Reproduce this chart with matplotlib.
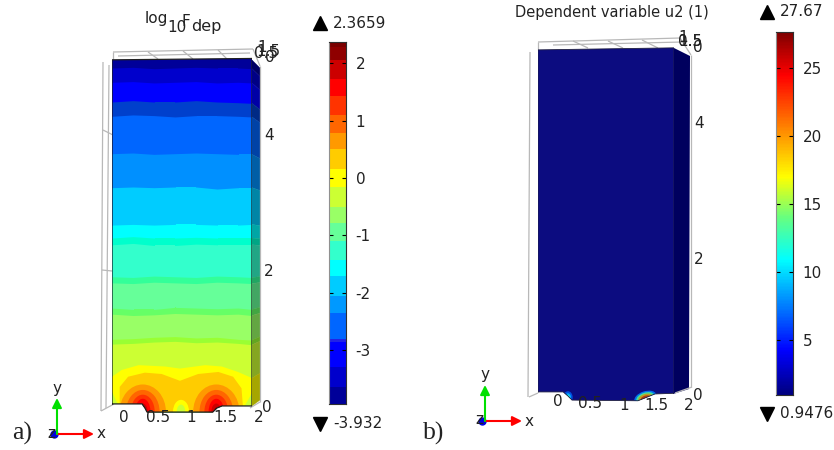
import numpy as np
import matplotlib as mpl
mpl.use('Agg')
import matplotlib.pyplot as plt
from matplotlib.colors import ListedColormap, BoundaryNorm, LinearSegmentedColormap, to_rgb
from matplotlib.patches import Ellipse, Polygon

mpl.rc('axes', unicode_minus=False)
W, H = 834, 450

# %% data
# panel a, colour bar
bar_a_levels = [-3.932, -3.64, -3.29, -2.85, -2.80, -2.35, -2.05, -1.71, -1.43, -1.10, -0.79,
                -0.50, -0.15, 0.15, 0.50, 0.79, 1.09, 1.43, 1.72, 2.05, 2.28, 2.3659]
bar_a_colors = ['#000099', '#0000cc', '#0000ff', '#2222e6', '#0066ff', '#0099ff', '#00ccff',
                '#00ffff', '#33ffcc', '#66ff99', '#99ff66', '#ccff33', '#ffff00', '#ffcc00',
                '#ff9900', '#ff6600', '#ff3300', '#ff0000', '#cc0000', '#8f0000', '#7a0000']
bar_a_ticks = [-3, -2, -1, 0, 1, 2]

# panel a, front face: contour height (y) at each x sample, top band first
contour_x = [0, 0.3, 0.6, 0.9, 1.2, 1.5, 1.8, 2.0]
contour_y = [
    [5.15, 5.15, 5.15, 5.15, 5.15, 5.15, 5.15, 5.15],
    [5.00, 5.01, 4.99, 5.00, 5.01, 5.00, 5.00, 4.99],
    [4.79, 4.80, 4.78, 4.79, 4.80, 4.78, 4.79, 4.78],
    [4.50, 4.52, 4.50, 4.50, 4.52, 4.50, 4.49, 4.48],
    [4.29, 4.31, 4.30, 4.28, 4.30, 4.30, 4.29, 4.28],
    [3.74, 3.75, 3.73, 3.74, 3.75, 3.74, 3.73, 3.73],
    [3.24, 3.25, 3.24, 3.25, 3.25, 3.22, 3.24, 3.24],
    [2.69, 2.70, 2.69, 2.70, 2.70, 2.69, 2.69, 2.70],
    [2.50, 2.52, 2.50, 2.50, 2.51, 2.50, 2.50, 2.50],
    [2.40, 2.42, 2.39, 2.39, 2.41, 2.40, 2.40, 2.40],
    [1.93, 1.92, 1.94, 1.93, 1.92, 1.94, 1.93, 1.92],
    [1.84, 1.83, 1.85, 1.84, 1.83, 1.85, 1.84, 1.83],
    [1.47, 1.45, 1.45, 1.48, 1.47, 1.46, 1.47, 1.45],
    [1.38, 1.36, 1.37, 1.39, 1.38, 1.37, 1.38, 1.36],
    [1.01, 1.02, 1.04, 1.05, 1.03, 1.04, 1.01, 1.00],
    [0.94, 0.95, 0.97, 0.98, 0.96, 0.97, 0.95, 0.93],
]
contour_colors = ['#000099', '#0000cc', '#0000ff', '#0040cc', '#0066ff', '#0090ff', '#00ccff',
                  '#00ffff', '#00ffcc', '#33ffcc', '#33ff99', '#66ff99', '#66ff66', '#99ff66',
                  '#99ff33', '#ccff33']

yellow_x = [0, 0.14, 0.38, 0.76, 0.97, 1.33, 1.57, 1.80, 2.0, 2.0, 1.90, 0.09, 0]
yellow_y = [0.46, 0.56, 0.63, 0.61, 0.58, 0.63, 0.61, 0.53, 0.44, 0.22, 0.04, 0.04, 0.24]
orange_x = [0.11, 0.11, 0.23, 0.47, 0.71, 0.97, 1.23, 1.52, 1.73, 1.85, 1.88]
orange_y = [-0.1, 0.31, 0.46, 0.52, 0.50, 0.40, 0.50, 0.53, 0.46, 0.29, -0.1]

# concentric hot spots at the two electrodes and the gap between them
hot_centers = [(0.44, -0.054), (1.49, -0.054)]
hot_rx = [0.33, 0.24, 0.17, 0.11, 0.07, 0.03]
hot_ry = [0.40, 0.32, 0.25, 0.19, 0.12, 0.06]
hot_colors = ['#ff9900', '#ff6600', '#ff3300', '#ff0000', '#cc0000', '#800000']
gap_center = (0.986, -0.05)
gap_rx = [0.114, 0.06]
gap_ry = [0.17, 0.10]
gap_colors = ['#ffff00', '#ccff33']

face_a_x = [0, 0.43, 0.47, 0.50, 1.44, 1.50, 1.57, 2, 2, 0]
face_a_y = [0.06, 0.06, 0.0, -0.06, -0.06, 0.0, 0.03, 0.03, 5.14, 5.12]

# panel b
bar_b_min, bar_b_max = 0.9476, 27.67
bar_b_ticks = [5, 10, 15, 20, 25]
bar_b_nodes = [0.9476, 4.2, 10.9, 14.0, 17.0, 20.0, 24.5, 27.67]
bar_b_colors = ['#00007f', '#0000ff', '#00ffff', '#66ff80', '#ffff00', '#ff9900', '#ff0000', '#7f0000']
face_b_x = [0, 0.37, 0.44, 0.50, 1.47, 1.72, 2, 2, 0]
face_b_y = [0.06, 0.06, 0.0, -0.06, -0.07, 0.03, 0.04, 5.12, 5.09]
face_b_color = '#0c0c80'
side_b_color = '#00005e'
left_glow_rx = [0.07, 0.045, 0.025]
left_glow_ry = [0.09, 0.06, 0.035]
left_glow_colors = ['#0050e0', '#00b0ff', '#40ffc0']
right_glow_rx = [0.17, 0.14, 0.11, 0.07]
right_glow_ry = [0.10, 0.08, 0.06, 0.035]
right_glow_colors = ['#0070f0', '#40e0a0', '#c0a020', '#b03810']

x_ticks = ['0', '0.5', '1', '1.5', '2']

# %% figure and helpers
fig = plt.figure(figsize=(W / 100, H / 100), dpi=100)


def px_axes(x0, y0, x1, y1, **kw):
    return fig.add_axes([x0 / W, 1 - y1 / H, (x1 - x0) / W, (y1 - y0) / H], **kw)


back = px_axes(0, 0, W, H)
back.set_xlim(0, W)
back.set_ylim(H, 0)
back.axis('off')

GRAY = '#b8b8b8'


def lines(ax, segs, color=GRAY, lw=0.9):
    for (x0, y0, x1, y1) in segs:
        ax.plot([x0, x1], [y0, y1], color=color, lw=lw, solid_capstyle='butt')


# back wireframes
lines(back, [(113, 52, 253, 49), (118, 56, 250, 53), (113, 52, 113, 60), (148, 52, 158, 59),
             (183, 51, 193, 59), (218, 50, 227, 59), (253, 49, 260, 66), (103, 62, 101, 411),
             (109, 65, 106, 408), (101, 411, 114, 404), (103, 130, 113, 135), (102, 270, 112, 271),
             (260, 66, 260, 402), (260, 402, 250, 408)])
lines(back, [(538, 42, 680, 38), (553, 45, 683, 42), (538, 42, 538, 50), (573, 41, 588, 48),
             (608, 41, 623, 48), (642, 40, 658, 48), (680, 38, 691, 55), (530, 52, 528, 397),
             (529, 397, 538, 393), (691, 55, 691, 387), (692, 387, 675, 393)])


def face_axes(x0, x1, py0, py_scale):
    # model coordinates: x 0..2 across the face, y in the same units as the tick labels
    ax = px_axes(x0, 45, x1, 416)
    ax.set_xlim(0, 2)
    ax.set_ylim((py0 - 416) / py_scale, (py0 - 45) / py_scale)
    ax.axis('off')
    ax.patch.set_alpha(0)
    return ax


# %% panel a
ax_a = face_axes(112, 252, 408, 68)
clip_a = Polygon(np.column_stack([face_a_x, face_a_y]), closed=True, transform=ax_a.transData)
shapes = []
for ys, col in zip(contour_y, contour_colors):
    shapes.append(ax_a.fill_between(contour_x, -0.2, ys, color=col, lw=0))
shapes += ax_a.fill(yellow_x, yellow_y, color='#ffff00', lw=0)
shapes += ax_a.fill(orange_x, orange_y, color='#ffcc00', lw=0)
for cx, cy in hot_centers:
    for rx, ry, col in zip(hot_rx, hot_ry, hot_colors):
        shapes.append(ax_a.add_patch(Ellipse((cx, cy), 2 * rx, 2 * ry, color=col, lw=0)))
for rx, ry, col in zip(gap_rx, gap_ry, gap_colors):
    shapes.append(ax_a.add_patch(Ellipse(gap_center, 2 * rx, 2 * ry, color=col, lw=0)))
for s in shapes:
    s.set_clip_path(clip_a)
ax_a.plot(face_a_x + face_a_x[:1], face_a_y + face_a_y[:1], color='#202020', lw=0.9)

# side of panel a: same bands as the front face, shaded
side_tops = [row[-1] for row in contour_y] + [0.44]
side_cols = contour_colors + ['#ffff00']
for i, col in enumerate(side_cols):
    top = 408 - 68 * side_tops[i]
    bot = 408 - 68 * side_tops[i + 1] if i + 1 < len(side_tops) else 406
    top = max(top, 60)
    r_top = 68 + (top - 60) * 332 / 346
    r_bot = 68 + (bot - 60) * 332 / 346
    shade = tuple(0.65 * c for c in to_rgb(col))
    back.fill([252, 260, 260, 252], [top, r_top, r_bot, bot], color=shade, lw=0.3)

# %% panel b
ax_b = face_axes(538, 674, 396, 68)
clip_b = Polygon(np.column_stack([face_b_x, face_b_y]), closed=True, transform=ax_b.transData)
ax_b.fill(face_b_x, face_b_y, color=face_b_color, lw=0)
for rx, ry, col in zip(left_glow_rx, left_glow_ry, left_glow_colors):
    ax_b.add_patch(Ellipse((0.44, -0.02), 2 * rx, 2 * ry, color=col, lw=0)).set_clip_path(clip_b)
for rx, ry, col in zip(right_glow_rx, right_glow_ry, right_glow_colors):
    ax_b.add_patch(Ellipse((1.58, -0.03), 2 * rx, 2 * ry, angle=18, color=col, lw=0)).set_clip_path(clip_b)
ax_b.plot(face_b_x + face_b_x[:1], face_b_y + face_b_y[:1], color='#202040', lw=0.6)
back.fill([674, 690, 689, 673], [48, 56, 389, 394], color=side_b_color, lw=0)

# %% colour bars
bar_a = px_axes(329, 42, 346, 404)
cm_a = ListedColormap(bar_a_colors)
bar_a.pcolormesh([0, 1], bar_a_levels, np.arange(len(bar_a_colors)).reshape(-1, 1), cmap=cm_a,
                 norm=BoundaryNorm(np.arange(len(bar_a_colors) + 1) - 0.5, len(bar_a_colors)))
bar_a.set_ylim(bar_a_levels[0], bar_a_levels[-1])
bar_a.set_yticks(bar_a_ticks)

bar_b = px_axes(776, 32, 793, 395)
scaled = [(v - bar_b_min) / (bar_b_max - bar_b_min) for v in bar_b_nodes]
cm_b = LinearSegmentedColormap.from_list('bar_b', list(zip(scaled, bar_b_colors)))
vals = np.linspace(bar_b_min, bar_b_max, 256).reshape(-1, 1)
bar_b.pcolormesh([0, 1], np.linspace(bar_b_min, bar_b_max, 257), vals, cmap=cm_b,
                 vmin=bar_b_min, vmax=bar_b_max)
bar_b.set_ylim(bar_b_min, bar_b_max)
bar_b.set_yticks(bar_b_ticks)

for bar in (bar_a, bar_b):
    bar.set_xticks([])
    bar.tick_params(axis='y', direction='in', left=True, right=True, labelleft=False,
                    labelright=True, length=3, width=0.8, pad=7, labelsize=11, labelcolor='#222222')
    for s in bar.spines.values():
        s.set_color('#303030')
        s.set_linewidth(0.8)
    bar.spines['left'].set_color('#909090')

# %% text overlay
top = px_axes(0, 0, W, H)
top.set_xlim(0, W)
top.set_ylim(H, 0)
top.axis('off')
top.patch.set_alpha(0)


def label(x, y, s, size=11, ha='center', **kw):
    top.text(x, y, s, fontsize=size, ha=ha, va='center', color='#222222', **kw)


# panel a tick labels
for x, s in zip([124, 158, 191, 225, 259], x_ticks):
    label(x, 418, s)
label(267, 408, '0')
label(269, 272, '2')
label(269, 136, '4')
label(262, 48, '1')
label(266, 54, '0.5')
label(268, 52, '1.5')
label(270, 58, '0')

# panel b tick labels
for x, y, s in zip([558, 590, 624, 656, 689], [402, 404, 405, 405, 406], x_ticks):
    label(x, y, s)
label(698, 396, '0')
label(699, 260, '2')
label(699, 124, '4')
label(683, 38, '1')
label(690, 42, '0.5')
label(690, 41, '1.5')
label(698, 47, '0')

# titles
label(145, 19, 'log', size=11, ha='left')
label(167, 27, '10', size=11, ha='left')
label(182, 22, 'F', size=11, ha='left')
label(191, 27, 'dep', size=11.5, ha='left')
label(515, 12, 'Dependent variable u2 (1)', size=10.5, ha='left')

# colour bar extremes
top.plot(320, 23, '^', color='k', ms=10)
top.plot(320, 424, 'v', color='k', ms=10)
label(333, 23, '2.3659', ha='left')
label(333, 424, '-3.932', ha='left')
top.plot(767, 12, '^', color='k', ms=10)
top.plot(767, 414, 'v', color='k', ms=10)
label(780, 12, '27.67', ha='left')
label(780, 414, '0.9476', ha='left')


# axis triads
def triad(x0, y0, name, name_x, name_y):
    top.annotate('', xy=(x0 + 37, y0), xytext=(x0, y0),
                 arrowprops=dict(arrowstyle='-|>', color='#ff0000', lw=1.5, shrinkA=0, shrinkB=0, mutation_scale=14))
    top.annotate('', xy=(x0, y0 - 36), xytext=(x0, y0),
                 arrowprops=dict(arrowstyle='-|>', color='#00e000', lw=1.5, shrinkA=0, shrinkB=0, mutation_scale=14))
    label(x0 - 6, y0 - 1, 'z')
    top.plot(x0 - 3, y0, 'o', color='#0000e0', ms=5)
    label(x0 + 44, y0, 'x')
    label(x0, y0 - 46, 'y')
    top.text(name_x, name_y, name, fontsize=18.5, family='Liberation Serif', ha='left', va='center', color='#222222')


triad(57, 434, 'a)', 12, 433)
triad(485, 421, 'b)', 423, 433)

fig.savefig('out.png', dpi=100)
